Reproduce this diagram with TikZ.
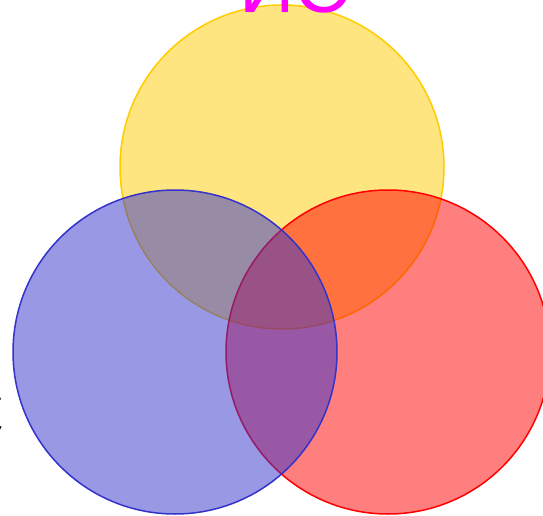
\documentclass[tikz,border=0pt]{standalone}
\usepackage{fontspec}
\setmainfont{Liberation Sans}
\definecolor{cyel}{HTML}{FFCC00}
\definecolor{cblue}{HTML}{3333CC}
\definecolor{cred}{HTML}{FF0000}
\definecolor{cmag}{HTML}{FF00FF}
\begin{document}
\begin{tikzpicture}[x=1pt,y=-1pt,
  venn/.style={line width=1.5pt, fill opacity=0.5},
  lbl/.style={font=\fontsize{77}{77}\selectfont, inner sep=0pt}]
\useasboundingbox (0,0) rectangle (543,516);
\clip (0,0) rectangle (543,516);
\fill[white] (0,0) rectangle (543,516);
\path[venn, draw=cyel, fill=cyel] (282,167) circle[radius=162];
\path[venn, draw=cred, fill=cred] (388,352) circle[radius=162];
\path[venn, draw=cblue, fill=cblue] (175,352) circle[radius=162];
\node[lbl, text=cmag, anchor=base] (top) at (295,13) {ИС};
\node[lbl, text=black, anchor=base east] (left) at (5,440) {ЭС};
\end{tikzpicture}
\end{document}
